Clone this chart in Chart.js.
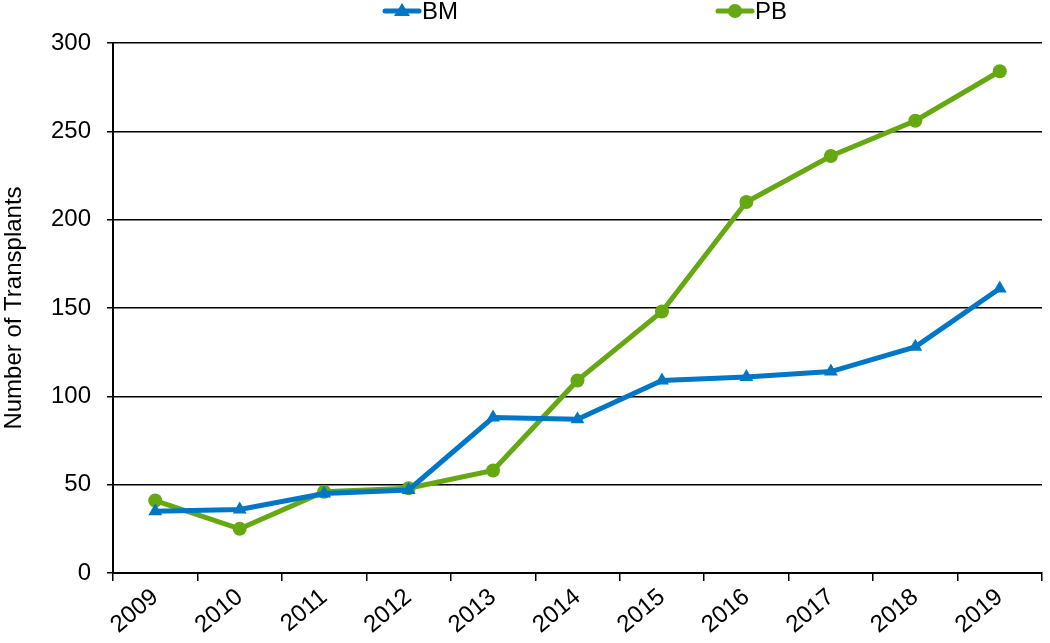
<!DOCTYPE html>
<html>
<head>
<meta charset="utf-8">
<script src="https://cdn.jsdelivr.net/npm/chart.js@4.4.1/dist/chart.umd.min.js"></script>
<style>
  body { margin: 0; background: #fff; }
  #wrap { width: 1050px; height: 643px; }
</style>
</head>
<body>
<div id="wrap"><canvas id="chart" width="1050" height="643"></canvas></div>
<script>
// data
var years = ['2009', '2010', '2011', '2012', '2013', '2014', '2015', '2016', '2017', '2018', '2019'];
var bmValues = [35, 36, 45, 47, 88, 87, 109, 111, 114, 128, 161];
var pbValues = [41, 25, 46, 48, 58, 109, 148, 210, 236, 256, 284];
var yTicks = [0, 50, 100, 150, 200, 250, 300];

var blue = '#0077c6';
var green = '#66a812';
var font = 'Liberation Sans, Arial, sans-serif';

// legend drawn by hand (line + marker + label), like the excel one
var legendPlugin = {
  id: 'topLegend',
  afterDraw: function(chart) {
    var ctx = chart.ctx;
    var spots = [385, 718];
    chart.data.datasets.forEach(function(ds, i) {
      var x = spots[i], y = 11;
      ctx.save();
      ctx.strokeStyle = ds.borderColor;
      ctx.lineWidth = 5;
      ctx.lineCap = 'round';
      ctx.beginPath();
      ctx.moveTo(x, y);
      ctx.lineTo(x + 34, y);
      ctx.stroke();
      ctx.fillStyle = ds.borderColor;
      ctx.beginPath();
      if (ds.pointStyle === 'triangle') {
        ctx.moveTo(x + 17, y - 8);
        ctx.lineTo(x + 25, y + 5);
        ctx.lineTo(x + 9, y + 5);
        ctx.closePath();
      } else {
        ctx.arc(x + 17, y, 7, 0, Math.PI * 2);
      }
      ctx.fill();
      ctx.fillStyle = '#000';
      ctx.font = '24px ' + font;
      ctx.textBaseline = 'middle';
      ctx.textAlign = 'left';
      ctx.fillText(ds.label, x + 37, y + 1);
      ctx.restore();
    });
  }
};

var ctx = document.getElementById('chart').getContext('2d');
var chart = new Chart(ctx, {
  type: 'line',
  data: {
    labels: years,
    datasets: [
      {
        label: 'BM',
        data: bmValues,
        borderColor: blue,
        backgroundColor: blue,
        borderWidth: 5,
        pointStyle: 'triangle',
        pointRadius: 8,
        pointBorderWidth: 0,
        fill: false,
        tension: 0
      },
      {
        label: 'PB',
        data: pbValues,
        borderColor: green,
        backgroundColor: green,
        borderWidth: 5,
        pointStyle: 'circle',
        pointRadius: 7,
        pointBorderWidth: 0,
        fill: false,
        tension: 0
      }
    ]
  },
  options: {
    responsive: false,
    animation: false,
    layout: { padding: { top: 43, right: 2, left: 0, bottom: 0 } },
    plugins: {
      legend: { display: false },
      tooltip: { enabled: false }
    },
    scales: {
      x: {
        type: 'category',
        offset: true,
        grid: {
          offset: true,
          drawOnChartArea: false,
          drawTicks: true,
          tickLength: 8,
          color: '#000',
          lineWidth: 1.5
        },
        border: { color: '#000', width: 2 },
        ticks: {
          color: '#000',
          font: { family: font, size: 24 },
          minRotation: 40,
          maxRotation: 40,
          padding: 2
        },
        afterFit: function(scale) { scale.height = 70; }
      },
      y: {
        min: 0,
        max: 300,
        afterBuildTicks: function(scale) {
          scale.ticks = yTicks.map(function(v) { return { value: v }; });
        },
        grid: {
          color: '#000',
          lineWidth: 1.5,
          drawTicks: true,
          tickLength: 6
        },
        border: { color: '#000', width: 2 },
        ticks: {
          color: '#000',
          font: { family: font, size: 24 },
          padding: 16
        },
        title: {
          display: true,
          text: 'Number of Transplants',
          color: '#000',
          font: { family: font, size: 24 },
          padding: { top: 0, bottom: 0 }
        },
        afterFit: function(scale) { scale.width = 113; }
      }
    }
  },
  plugins: [legendPlugin]
});
</script>
</body>
</html>
